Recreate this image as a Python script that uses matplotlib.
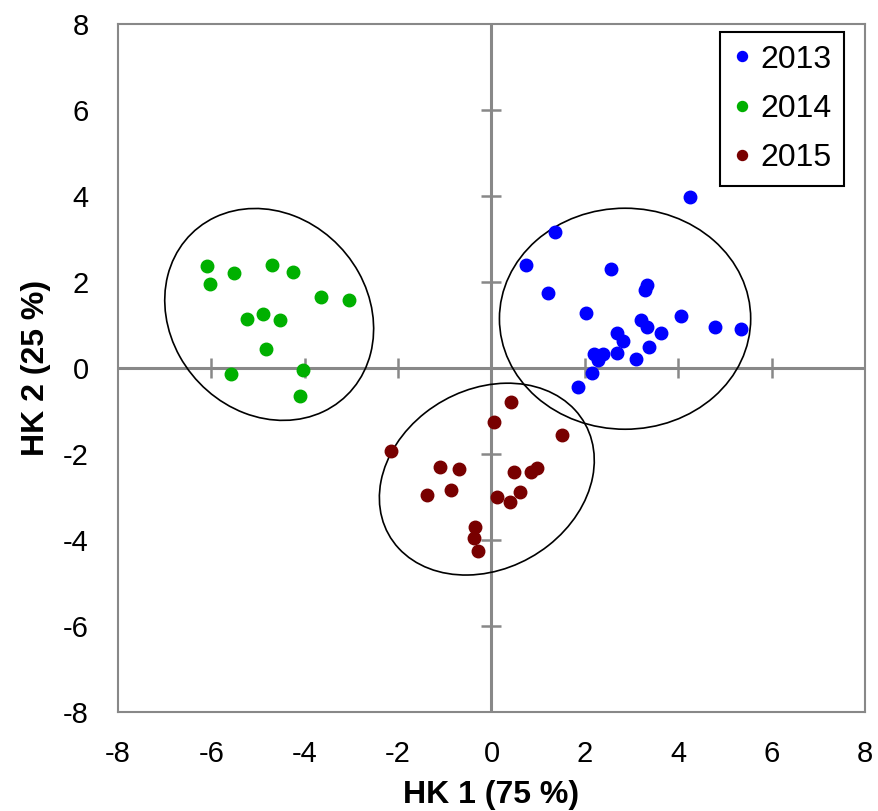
import matplotlib
matplotlib.use("Agg")
import matplotlib.pyplot as plt
from matplotlib.patches import Ellipse

plt.rcParams['font.family'] = ['Liberation Sans', 'DejaVu Sans']

# ---- data ----
x2013 = [4.25, 1.37, 0.73, 2.55, 1.21, 3.32, 3.29, 2.02, 4.06, 4.79, 5.34, 3.20,
         3.34, 3.64, 2.69, 2.81, 3.37, 2.68, 3.09, 2.39, 2.20, 2.27, 2.15, 1.86]
y2013 = [3.98, 3.16, 2.40, 2.29, 1.74, 1.92, 1.81, 1.27, 1.20, 0.94, 0.91, 1.12,
         0.95, 0.81, 0.81, 0.63, 0.49, 0.35, 0.20, 0.33, 0.31, 0.18, -0.13, -0.44]
x2014 = [-6.10, -6.03, -5.52, -4.70, -4.25, -3.66, -3.05, -5.24, -4.89, -4.53,
         -4.83, -5.57, -4.04, -4.10]
y2014 = [2.37, 1.95, 2.20, 2.38, 2.23, 1.65, 1.57, 1.13, 1.24, 1.10,
         0.43, -0.15, -0.05, -0.66]
x2015 = [0.42, 0.05, 1.52, -2.15, -1.10, -0.70, 0.49, 0.84, 0.98, -1.39, -0.86,
         0.61, 0.11, 0.40, -0.35, -0.37, -0.28]
y2015 = [-0.80, -1.27, -1.56, -1.94, -2.31, -2.35, -2.42, -2.43, -2.32, -2.96, -2.84,
         -2.90, -3.01, -3.12, -3.70, -3.97, -4.26]

series_labels = ['2013', '2014', '2015']
series_colors = ['#0000ff', '#00b000', '#780000']

# confidence ellipses: centre x, centre y, width, height, angle
ell_cx = [2.86, -4.76, -0.10]
ell_cy = [1.14, 1.24, -2.59]
ell_w = [5.38, 5.08, 4.96]
ell_h = [5.14, 4.30, 4.06]
ell_ang = [0.0, -62.9, 40.5]

ticks = [-8, -6, -4, -2, 0, 2, 4, 6, 8]
inner_ticks = [-6, -4, -2, 2, 4, 6]

xlabel = 'HK 1 (75 %)'
ylabel = 'HK 2 (25 %)'

# ---- figure ----
fig = plt.figure(figsize=(8.79, 8.11), dpi=100)
ax = fig.add_axes([0.1341, 0.1224, 0.8501, 0.8483])
ax.set_xlim(-8, 8)
ax.set_ylim(-8, 8)

grey = '#888888'
for s in ax.spines.values():
    s.set_color(grey)
    s.set_linewidth(1.5)

ax.axhline(0, color=grey, lw=2.2, zorder=1)
ax.axvline(0, color=grey, lw=2.2, zorder=1)
ax.plot(inner_ticks, [0] * len(inner_ticks), ls='none', marker='|', ms=14,
        mew=1.8, color=grey, zorder=1)
ax.plot([0] * len(inner_ticks), inner_ticks, ls='none', marker='_', ms=14,
        mew=1.8, color=grey, zorder=1)

ax.set_xticks(ticks)
ax.set_yticks(ticks)
ax.set_xticklabels([str(t) for t in ticks])
ax.set_yticklabels([str(t) for t in ticks])
ax.tick_params(axis='both', length=0, labelsize=21)
ax.tick_params(axis='x', pad=20)
ax.tick_params(axis='y', pad=21)

xs = [x2013, x2014, x2015]
ys = [y2013, y2014, y2015]
for xv, yv, lab, col in zip(xs, ys, series_labels, series_colors):
    ax.plot(xv, yv, ls='none', marker='o', ms=9, color=col, label=lab, zorder=3)

for cx, cy, w, h, a in zip(ell_cx, ell_cy, ell_w, ell_h, ell_ang):
    ax.add_patch(Ellipse((cx, cy), w, h, angle=a, fill=False, ec='black',
                         lw=1.2, zorder=2))

leg = ax.legend(loc='upper right', bbox_to_anchor=(0.9718, 0.9884),
                borderaxespad=0, fontsize=23, markerscale=0.8, numpoints=1,
                handlelength=0.6, handletextpad=0.25, labelspacing=0.6,
                borderpad=0.4, fancybox=False, framealpha=1)
leg.get_frame().set_edgecolor('black')
leg.get_frame().set_linewidth(1.5)

ax.set_xlabel(xlabel, fontsize=23, fontweight='bold')
ax.set_ylabel(ylabel, fontsize=23, fontweight='bold')
ax.xaxis.set_label_coords(0.5, -0.121)
ax.xaxis.label.set_va('center')
ax.yaxis.set_label_coords(-0.11, 0.5)
ax.yaxis.label.set_va('center')

fig.savefig('out.png', dpi=100)
